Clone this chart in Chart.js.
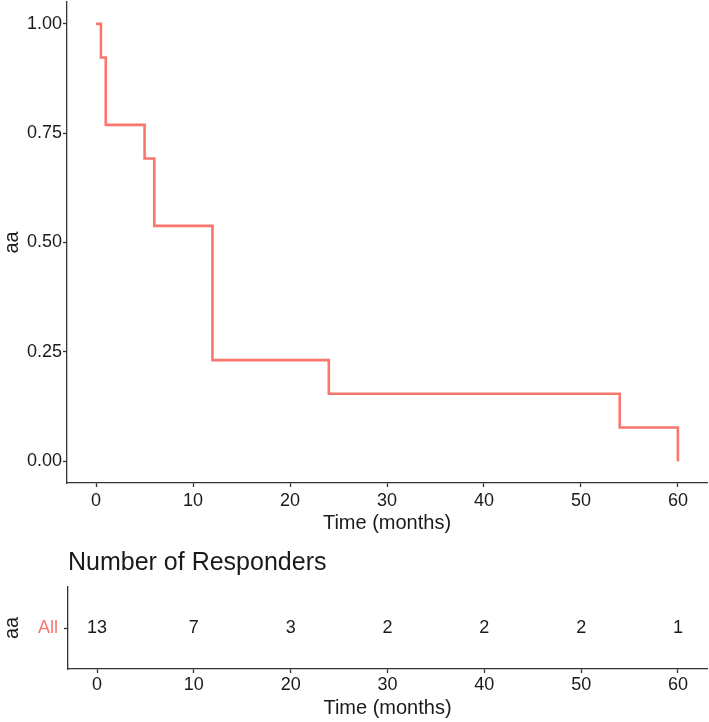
<!DOCTYPE html>
<html>
<head>
<meta charset="utf-8">
<script src="https://cdn.jsdelivr.net/npm/chart.js@4.4.1/dist/chart.umd.min.js"></script>
<style>
  html, body { margin: 0; padding: 0; background: #fff; }
  #wrap { position: relative; width: 709px; height: 722px; }
  #kmBox { position: absolute; left: 0; top: 0; width: 709px; height: 535px; }
  #riskBox { position: absolute; left: 0; top: 540px; width: 709px; height: 182px; }
</style>
</head>
<body>
<div id="wrap">
  <div id="kmBox"><canvas id="kmChart"></canvas></div>
  <div id="riskBox"><canvas id="riskChart"></canvas></div>
</div>
<script>
// Kaplan-Meier step points (time in months, survival fraction)
const times = [0, 0.5, 1, 5, 6, 12, 24, 54, 60];
const survival = [1.0, 0.923, 0.769, 0.692, 0.538, 0.231, 0.154, 0.077, 0.0];

// Number at risk table
const riskGroups = ['All'];
const riskTimes = [0, 10, 20, 30, 40, 50, 60];
const riskCounts = [13, 7, 3, 2, 2, 2, 1];

// Tick labels
const xTicks = [0, 10, 20, 30, 40, 50, 60];
const yTicks = [0, 0.25, 0.5, 0.75, 1.0];
const yTickLabels = ['0.00', '0.25', '0.50', '0.75', '1.00'];

const lineColor = '#F8766D';
const inkColor = '#1a1a1a';
const axisColor = '#333333';
const fontStack = '"Liberation Sans", Arial, sans-serif';

Chart.defaults.font.family = fontStack;
Chart.defaults.color = inkColor;
Chart.defaults.animation = false;
Chart.defaults.responsive = true;
Chart.defaults.maintainAspectRatio = false;

function axisGrid() {
  return { display: true, drawOnChartArea: false, drawTicks: true, tickLength: 4, tickColor: axisColor, tickWidth: 1.3 };
}
function axisBorder() {
  return { display: true, color: axisColor, width: 1.3 };
}
// fixed axis sizes, no extra room reserved for edge labels
function fixHeight(h) {
  return s => { s.height = h; s.paddingLeft = 0; s.paddingRight = 0; };
}
function fixWidth(w) {
  return s => { s.width = w; s.paddingTop = 0; s.paddingBottom = 0; };
}

// --- Survival curve ---
new Chart(document.getElementById('kmChart'), {
  type: 'line',
  data: {
    datasets: [{
      label: 'All',
      data: times.map((t, i) => ({ x: t, y: survival[i] })),
      borderColor: lineColor,
      borderWidth: 2.6,
      stepped: true,
      pointRadius: 0,
      fill: false,
      tension: 0
    }]
  },
  options: {
    layout: { padding: { top: 2, right: 2, left: 0, bottom: 0 } },
    plugins: { legend: { display: false }, tooltip: { enabled: false } },
    scales: {
      x: {
        type: 'linear',
        min: -3,
        max: 63,
        afterBuildTicks: s => { s.ticks = xTicks.map(v => ({ value: v })); },
        afterFit: fixHeight(52),
        ticks: { font: { size: 18 }, color: inkColor, padding: 3, maxRotation: 0 },
        grid: axisGrid(),
        border: axisBorder(),
        title: { display: true, text: 'Time (months)', font: { size: 20 }, color: inkColor, padding: { top: 0, bottom: 0 } }
      },
      y: {
        type: 'linear',
        min: -0.05,
        max: 1.05,
        afterBuildTicks: s => { s.ticks = yTicks.map(v => ({ value: v })); },
        afterFit: fixWidth(67),
        ticks: {
          font: { size: 18 }, color: inkColor, padding: 1,
          callback: v => yTickLabels[yTicks.indexOf(v)]
        },
        grid: axisGrid(),
        border: axisBorder(),
        title: { display: true, text: 'aa', font: { size: 20 }, color: inkColor, padding: { top: 0, bottom: 0 } }
      }
    }
  }
});

// Draw the number-at-risk counts at scale positions
const riskText = {
  id: 'riskText',
  afterDraw(chart) {
    const ctx = chart.ctx;
    const xs = chart.scales.x;
    const ys = chart.scales.y;
    ctx.save();
    ctx.font = '18px ' + fontStack;
    ctx.fillStyle = inkColor;
    ctx.textAlign = 'center';
    ctx.textBaseline = 'middle';
    riskTimes.forEach((t, i) => {
      ctx.fillText(String(riskCounts[i]), xs.getPixelForValue(t), ys.getPixelForValue(0));
    });
    ctx.restore();
  }
};

// --- Risk table ---
new Chart(document.getElementById('riskChart'), {
  type: 'scatter',
  data: { datasets: [] },
  plugins: [riskText],
  options: {
    layout: { padding: { top: 0, right: 2, left: 0, bottom: 0 } },
    plugins: {
      legend: { display: false },
      tooltip: { enabled: false },
      title: {
        display: true,
        text: 'Number of Responders',
        align: 'start',
        fullSize: false,
        color: inkColor,
        font: { size: 25, weight: 'normal' },
        padding: { top: 8, bottom: 9 }
      }
    },
    scales: {
      x: {
        type: 'linear',
        min: -3,
        max: 63,
        afterBuildTicks: s => { s.ticks = xTicks.map(v => ({ value: v })); },
        afterFit: fixHeight(53),
        ticks: { font: { size: 18 }, color: inkColor, padding: 1, maxRotation: 0 },
        grid: axisGrid(),
        border: axisBorder(),
        title: { display: true, text: 'Time (months)', font: { size: 20 }, color: inkColor, padding: { top: 0, bottom: 2 } }
      },
      y: {
        type: 'category',
        labels: riskGroups,
        offset: true,
        afterFit: fixWidth(68),
        ticks: { font: { size: 18 }, color: lineColor, padding: 6 },
        grid: axisGrid(),
        border: axisBorder(),
        title: { display: true, text: 'aa', font: { size: 20 }, color: inkColor, padding: { top: 0, bottom: 0 } }
      }
    }
  }
});
</script>
</body>
</html>
